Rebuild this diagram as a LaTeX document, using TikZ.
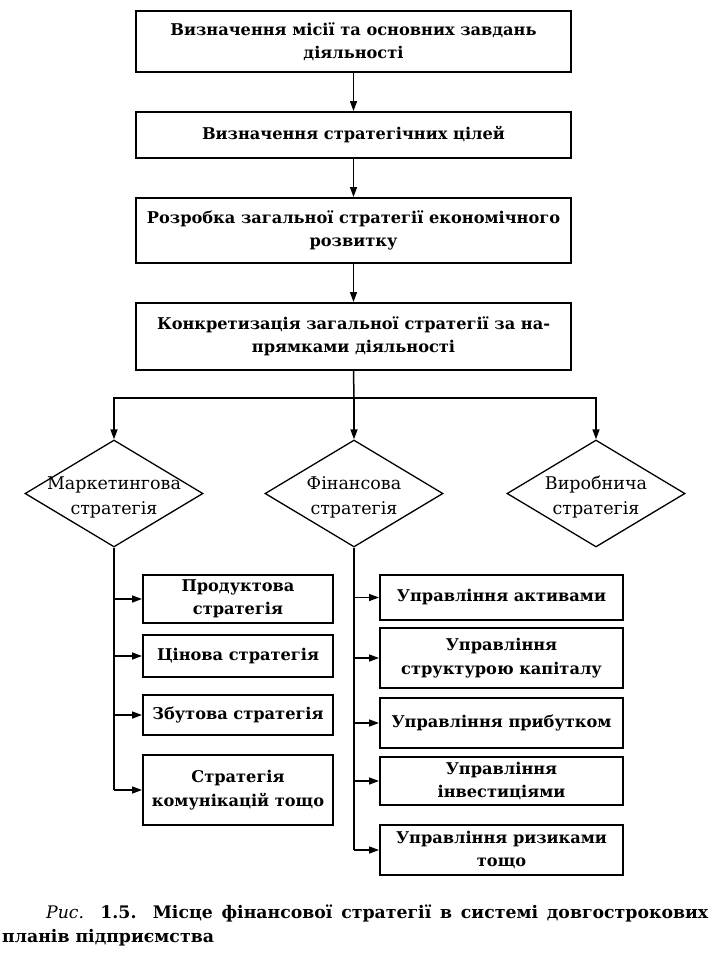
\documentclass[tikz,border=0pt]{standalone}
\usepackage{fontspec}
\setmainfont{DejaVu Serif}
\usetikzlibrary{arrows.meta,shapes.geometric}
\begin{document}
\begin{tikzpicture}[x=1pt,y=-1pt,
  box/.style={draw,line width=2pt,inner sep=0pt,align=center,
    font=\fontsize{16.2}{23.5}\selectfont\bfseries},
  dia/.style={draw,line width=1.3pt,diamond,inner sep=0pt,
    minimum width=178pt,minimum height=107pt},
  diatext/.style={align=center,inner sep=0pt,
    font=\fontsize{17.5}{25}\selectfont},
  ln/.style={line width=1.5pt},
  arr/.style={ln,-{Triangle[length=10pt,width=7pt]}}]
\useasboundingbox (0,0) rectangle (717,975);
% top chain
\node[box,minimum width=435pt,minimum height=61pt] (b1) at (353.5,41.5)
  {Визначення місії та основних завдань\\діяльності};
\node[box,minimum width=435pt,minimum height=46pt] (b2) at (353.5,135)
  {Визначення стратегічних цілей};
\node[box,minimum width=435pt,minimum height=65pt] (b3) at (353.5,230.5)
  {Розробка загальної стратегії економічного\\розвитку};
\node[box,minimum width=435pt,minimum height=67pt] (b4) at (353.5,336.5)
  {Конкретизація загальної стратегії за на-\\прямками діяльності};
\draw[arr] (b1) -- (b2);
\draw[arr] (b2) -- (b3);
\draw[arr] (b3) -- (b4);
% diamonds
\node[dia] (d1) at (114,493.5) {};
\node[dia] (d2) at (354,493.5) {};
\node[dia] (d3) at (596,493.5) {};
\node[diatext] (t1) at (114,497) {Маркетингова\\стратегія};
\node[diatext] (t2) at (354,497) {Фінансова\\стратегія};
\node[diatext] (t3) at (596,497) {Виробнича\\стратегія};
\coordinate (split) at (354,398);
\draw[ln] (b4.south) -- (split);
\draw[arr] (split) -- (d2.north);
\draw[arr] (split) -| (d1.north);
\draw[arr] (split) -| (d3.north);
% marketing boxes
\node[box,minimum width=190pt,minimum height=48pt] (m1) at (238,599)
  {Продуктова\\стратегія};
\node[box,minimum width=190pt,minimum height=42pt] (m2) at (238,656)
  {Цінова стратегія};
\node[box,minimum width=190pt,minimum height=40pt] (m3) at (238,715)
  {Збутова стратегія};
\node[box,minimum width=190pt,minimum height=70pt] (m4) at (238,790)
  {Стратегія\\комунікацій тощо};
\draw[ln] (d1.south) -- (d1.south |- m4.west);
\foreach \n in {m1,m2,m3,m4}
  \draw[arr] (d1.south |- \n.west) -- (\n.west);
% finance boxes
\node[box,minimum width=243pt,minimum height=45pt] (f1) at (501.5,597.5)
  {Управління активами};
\node[box,minimum width=243pt,minimum height=60pt] (f2) at (501.5,658)
  {Управління\\структурою капіталу};
\node[box,minimum width=243pt,minimum height=50pt] (f3) at (501.5,723)
  {Управління прибутком};
\node[box,minimum width=243pt,minimum height=48pt] (f4) at (501.5,781)
  {Управління\\інвестиціями};
\node[box,minimum width=243pt,minimum height=50pt] (f5) at (501.5,850)
  {Управління ризиками\\тощо};
\draw[ln] (d2.south) -- (d2.south |- f5.west);
\foreach \n in {f1,f2,f3,f4,f5}
  \draw[arr] (d2.south |- \n.west) -- (\n.west);
% caption
\node[anchor=north west,inner sep=0pt,text width=706pt,align=justify,
  font=\fontsize{17.3}{24}\selectfont\bfseries] (cap) at (2,905)
  {\hspace*{44pt}{\mdseries\itshape Рис.} 1.5. Місце фінансової стратегії в системі довгострокових\linebreak планів підприємства};
\end{tikzpicture}
\end{document}
